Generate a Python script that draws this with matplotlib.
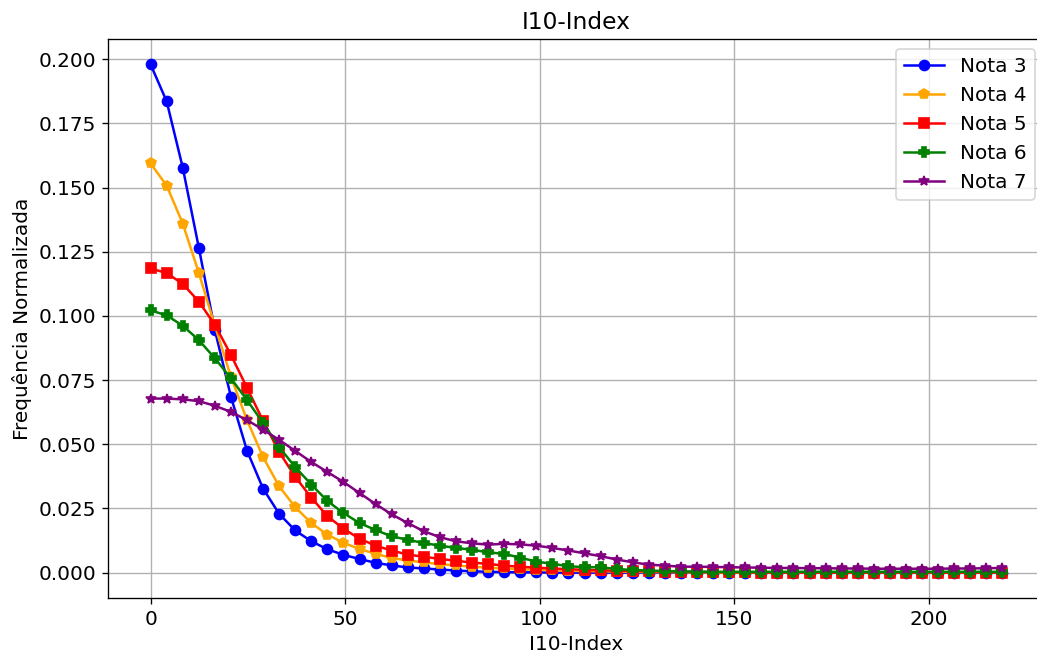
import numpy as np
import matplotlib
matplotlib.use("Agg")
import matplotlib.pyplot as plt

# x positions (bin starts of the I10-Index histogram)
x_step = 4.132
n_points = 54
x = [i * x_step for i in range(n_points)]

nota3 = [0.198, 0.1836, 0.1578, 0.1266, 0.0945, 0.0685, 0.0475, 0.0327, 0.0229, 0.0164,
         0.0122, 0.0091, 0.0069, 0.0053, 0.0038, 0.0028, 0.0020, 0.0016, 0.0012, 0.0008,
         0.0005, 0.0003, 0.0002, 0.0001, 0.0001] + [0.0] * 29

nota4 = [0.1594, 0.1508, 0.136, 0.1168, 0.0962, 0.0763, 0.0594, 0.045, 0.0336, 0.0255,
         0.0193, 0.0148, 0.0116, 0.0092, 0.0073, 0.0057, 0.0047, 0.0040, 0.0033, 0.0028,
         0.0023, 0.0019, 0.0016, 0.0013, 0.0011, 0.0009, 0.0007, 0.0006, 0.0005, 0.0004,
         0.0003, 0.0002, 0.0002, 0.0001, 0.0001] + [0.0] * 19

nota5 = [0.1185, 0.1167, 0.1125, 0.1056, 0.0965, 0.0848, 0.072, 0.0591, 0.047, 0.0373,
         0.0292, 0.022, 0.0171, 0.0132, 0.0105, 0.0086, 0.0070, 0.0062, 0.0053, 0.0046,
         0.0039, 0.0034, 0.0027, 0.0023, 0.0019, 0.0016, 0.0013, 0.0011, 0.0009, 0.0007,
         0.0006, 0.0005, 0.0004, 0.0003, 0.0002, 0.0002, 0.0001, 0.0001] + [0.0] * 16

nota6 = [0.1022, 0.1002, 0.0962, 0.0906, 0.0835, 0.0757, 0.0672, 0.0583, 0.0489, 0.0411,
         0.0343, 0.0279, 0.0232, 0.0193, 0.0166, 0.0141, 0.0128, 0.0115, 0.0105, 0.0096,
         0.0089, 0.0079, 0.0073, 0.0058, 0.0043, 0.0034, 0.0025, 0.0021, 0.0021, 0.0014,
         0.0010, 0.0008, 0.0006, 0.0005, 0.0004] + [0.0003] * 19

nota7 = [0.0678, 0.0678, 0.0675, 0.0668, 0.065, 0.0626, 0.0594, 0.0557, 0.0517, 0.0474,
         0.0431, 0.0392, 0.0353, 0.031, 0.0267, 0.0227, 0.0193, 0.0161, 0.0138, 0.0122,
         0.0114, 0.0109, 0.0112, 0.0110, 0.0105, 0.0096, 0.0086, 0.0075, 0.0064, 0.0051,
         0.0040, 0.0031, 0.0027, 0.0023, 0.0023, 0.0022, 0.0021, 0.0020, 0.0019, 0.0018,
         0.0018, 0.0017, 0.0017, 0.0016, 0.0016, 0.0015, 0.0015, 0.0015, 0.0015, 0.0015,
         0.0016, 0.0016, 0.0017, 0.0018]

series = [
    ("Nota 3", nota3, "blue", "o"),
    ("Nota 4", nota4, "orange", "p"),
    ("Nota 5", nota5, "red", "s"),
    ("Nota 6", nota6, "green", "P"),
    ("Nota 7", nota7, "purple", "*"),
]

W, H = 1037, 655
fig = plt.figure(figsize=(W / 120, H / 120), dpi=120)
# the reference crops the right edge of the axes slightly
ax = fig.add_axes([108 / W, 1 - 598 / H, (1045 - 108) / W, (598 - 39) / H])

for label, y, color, marker in series:
    ax.plot(x, y, color=color, marker=marker, label=label)

ax.set_title("I10-Index", fontsize=14)
ax.set_xlabel("I10-Index", fontsize=12)
ax.set_ylabel("Frequência Normalizada", fontsize=12)
ax.tick_params(labelsize=12)
ax.grid(True, color="#b0b0b0", linewidth=0.8)
ax.legend(loc="upper right", fontsize=12)

fig.savefig("out.png", dpi=120)
